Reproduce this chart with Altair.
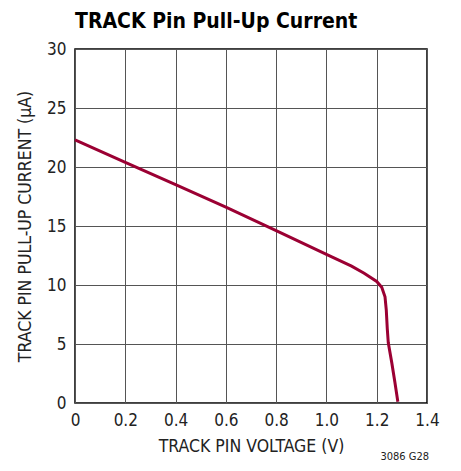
import altair as alt
import pandas as pd

voltage = [0.0, 0.2, 0.4, 0.6, 0.8, 1.0, 1.1, 1.15, 1.2, 1.22, 1.233, 1.238, 1.242, 1.246, 1.26, 1.272, 1.284]
current = [22.3, 20.4, 18.5, 16.6, 14.6, 12.6, 11.6, 11.0, 10.3, 9.8, 9.0, 7.9, 6.3, 5.1, 3.4, 1.8, 0.1]

x_ticks = [0, 0.2, 0.4, 0.6, 0.8, 1.0, 1.2, 1.4]
y_ticks = [0, 5, 10, 15, 20, 25, 30]

title_text = "TRACK Pin Pull-Up Current"
note_text = "3086 G28"

df = pd.DataFrame({"v": voltage, "i": current})
FONT = "DejaVu Sans Condensed, Roboto Condensed, Liberation Sans"

line = alt.Chart(df).mark_line(color="#9B0033", strokeWidth=3).encode(
    x=alt.X("v:Q", scale=alt.Scale(domain=[0, 1.4], nice=False),
            axis=alt.Axis(values=x_ticks, title="TRACK PIN VOLTAGE (V)", labelFlush=False,
                          labelExpr="datum.value == 0 ? '0' : format(datum.value, '.1f')")),
    y=alt.Y("i:Q", scale=alt.Scale(domain=[0, 30], nice=False),
            axis=alt.Axis(values=y_ticks, title="TRACK PIN PULL-UP CURRENT (µA)", labelFlush=False)),
    order=alt.Order("v:Q"),
)

note = alt.Chart(pd.DataFrame({"t": [note_text]})).mark_text(
    font=FONT, fontSize=11, align="right", baseline="middle", color="#222"
).encode(text="t:N", x=alt.value(354), y=alt.value(408))

title = alt.Chart(pd.DataFrame({"t": [title_text]})).mark_text(
    font=FONT, fontSize=21, fontWeight="bold", align="left", baseline="alphabetic", color="#000"
).encode(text="t:N", x=alt.value(0), y=alt.value(-21))

chart = alt.layer(line, note, title).properties(
    width=352, height=354,
    autosize=alt.AutoSizeParams(type="none"),
    padding={"left": 67, "top": 41, "right": 26, "bottom": 63},
).configure_view(stroke="#000", strokeWidth=1.5).configure_axis(
    grid=True, gridColor="#555", gridWidth=1, gridOpacity=1,
    domain=False, ticks=False,
    labelFont=FONT, labelFontSize=17, labelColor="#222",
    titleFont=FONT, titleFontSize=17.5, titleFontWeight="normal", titleColor="#222",
).configure_axisX(labelPadding=9, titlePadding=9).configure_axisY(titlePadding=12, labelPadding=9)

chart.save("out.html", embed_options={"renderer": "svg", "actions": False})
